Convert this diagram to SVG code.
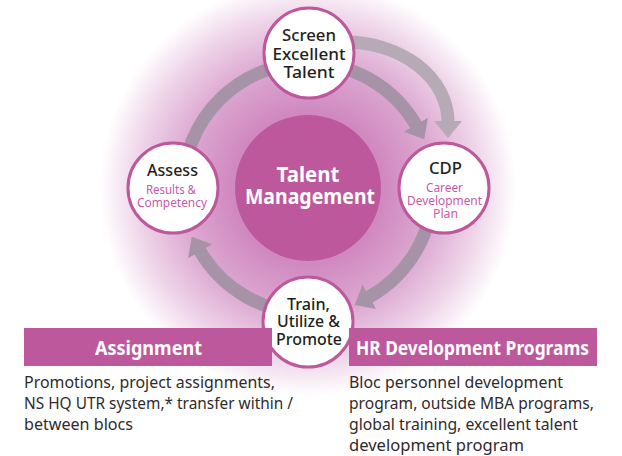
<svg xmlns="http://www.w3.org/2000/svg" width="622" height="456" viewBox="0 0 622 456">
<defs>
<radialGradient id="glow" cx="308" cy="188" r="208" gradientUnits="userSpaceOnUse">
<stop offset="0" stop-color="#c466ad"/>
<stop offset="0.38" stop-color="#d18bc1"/>
<stop offset="0.62" stop-color="#ddaad2"/>
<stop offset="0.82" stop-color="#eed3e8"/>
<stop offset="1" stop-color="#ffffff"/>
</radialGradient>
<marker id="headIn" markerUnits="userSpaceOnUse" viewBox="-1 -15 18 30" refX="0" refY="0" markerWidth="18" markerHeight="30" orient="auto">
<path d="M-1,-14 L16,0 L-1,14 z" fill="#a793a7"/>
</marker>
<marker id="headOut" markerUnits="userSpaceOnUse" viewBox="-1 -15 18 30" refX="0" refY="0" markerWidth="18" markerHeight="30" orient="auto">
<path d="M-1,-14 L16,0 L-1,14 z" fill="#b5aab6"/>
</marker>
<style>
.ring{fill:none;stroke:#a793a7;stroke-width:13}
.outer{fill:none;stroke:#b5aab6;stroke-width:13}
.node{fill:#ffffff;stroke:#bd589d;stroke-width:3}
.t{font-family:"Noto Sans","Liberation Sans",sans-serif;text-anchor:middle}
.dark{fill:#231f20;font-size:16px;font-weight:500}
.sub{fill:#c85aa5;font-size:12.5px}
.white{fill:#ffffff;font-weight:700}
.bar{fill:#bd589d}
.body{font-family:"Noto Sans","Liberation Sans",sans-serif;font-size:17px;fill:#2f2a2b}
</style>
</defs>
<rect x="0" y="0" width="622" height="456" fill="#ffffff"/>
<circle cx="308" cy="188" r="208" fill="url(#glow)"/>

<g id="connectors">
<path class="ring" d="M183 188 A125 125 0 0 1 308 63"/>
<path class="ring" d="M308 63 A125 125 0 0 1 416.25 125.5" marker-end="url(#headIn)"/>
<path class="outer" d="M345 42 A103 80 0 0 1 448 122" marker-end="url(#headOut)"/>
<path class="ring" d="M433 188 A125 125 0 0 1 368.6 297.3" marker-end="url(#headIn)"/>
<path class="ring" d="M308 313 A125 125 0 0 1 199.75 250.5" marker-end="url(#headIn)"/>
</g>

<g id="center">
<circle cx="308" cy="188" r="73" fill="#bd589d"/>
<text class="t white" x="308" y="182" font-size="22" textLength="63" lengthAdjust="spacingAndGlyphs">Talent</text>
<text class="t white" x="310" y="204" font-size="22" textLength="130" lengthAdjust="spacingAndGlyphs">Management</text>
</g>

<g id="screen">
<circle class="node" cx="309" cy="53" r="45"/>
<text class="t dark" x="309" y="41" textLength="54" lengthAdjust="spacingAndGlyphs">Screen</text>
<text class="t dark" x="309" y="59.5" textLength="73" lengthAdjust="spacingAndGlyphs">Excellent</text>
<text class="t dark" x="309" y="78" textLength="51" lengthAdjust="spacingAndGlyphs">Talent</text>
</g>

<g id="assess">
<circle class="node" cx="173" cy="188" r="45"/>
<text class="t dark" x="172.5" y="176" font-size="17" textLength="51" lengthAdjust="spacingAndGlyphs">Assess</text>
<text class="t sub" x="171" y="194" textLength="50" lengthAdjust="spacingAndGlyphs">Results &amp;</text>
<text class="t sub" x="172" y="207" textLength="70" lengthAdjust="spacingAndGlyphs">Competency</text>
</g>

<g id="cdp">
<circle class="node" cx="444" cy="188" r="45"/>
<text class="t dark" x="445.5" y="174" font-size="17" textLength="33" lengthAdjust="spacingAndGlyphs">CDP</text>
<text class="t sub" x="444.5" y="192" textLength="37" lengthAdjust="spacingAndGlyphs">Career</text>
<text class="t sub" x="444.5" y="205" textLength="75" lengthAdjust="spacingAndGlyphs">Development</text>
<text class="t sub" x="445.5" y="218" textLength="25" lengthAdjust="spacingAndGlyphs">Plan</text>
</g>

<g id="train">
<circle class="node" cx="308" cy="322" r="45"/>
<text class="t dark" x="308.5" y="309.5" textLength="43" lengthAdjust="spacingAndGlyphs">Train,</text>
<text class="t dark" x="308.5" y="327" textLength="63" lengthAdjust="spacingAndGlyphs">Utilize &amp;</text>
<text class="t dark" x="309" y="344.5" textLength="66" lengthAdjust="spacingAndGlyphs">Promote</text>
</g>

<g id="assignment">
<rect class="bar" x="24" y="328" width="248" height="38"/>
<text class="t white" x="148.5" y="355" font-size="19" textLength="107" lengthAdjust="spacingAndGlyphs">Assignment</text>
<text class="body" x="24" y="388" textLength="251" lengthAdjust="spacingAndGlyphs">Promotions, project assignments,</text>
<text class="body" x="24" y="409" textLength="269" lengthAdjust="spacingAndGlyphs">NS HQ UTR system,* transfer within /</text>
<text class="body" x="24" y="430" textLength="109" lengthAdjust="spacingAndGlyphs">between blocs</text>
</g>

<g id="hr-programs">
<rect class="bar" x="349" y="328" width="248" height="38"/>
<text class="t white" x="472.5" y="355" font-size="19" textLength="233" lengthAdjust="spacingAndGlyphs">HR Development Programs</text>
<text class="body" x="349" y="388" textLength="214" lengthAdjust="spacingAndGlyphs">Bloc personnel development</text>
<text class="body" x="349" y="409" textLength="245" lengthAdjust="spacingAndGlyphs">program, outside MBA programs,</text>
<text class="body" x="349" y="430" textLength="229" lengthAdjust="spacingAndGlyphs">global training, excellent talent</text>
<text class="body" x="349" y="451" textLength="175" lengthAdjust="spacingAndGlyphs">development program</text>
</g>
</svg>
